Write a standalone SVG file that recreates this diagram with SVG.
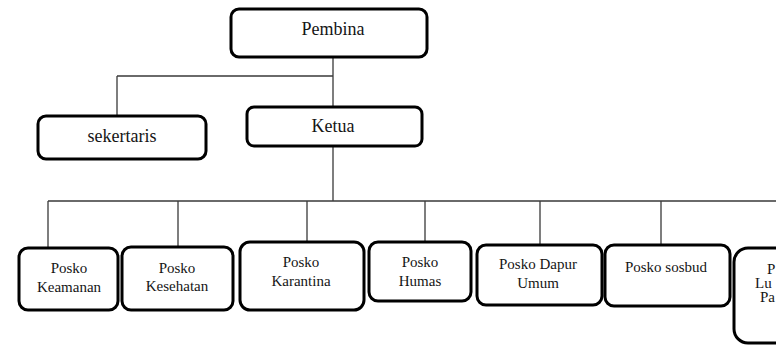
<svg xmlns="http://www.w3.org/2000/svg" width="776" height="345" viewBox="0 0 776 345">
<style>
.box{fill:#fff;stroke:#000;stroke-width:3}
.ln{stroke:#3a3a3a;stroke-width:1.3;fill:none}
.t{font-family:"Liberation Serif","Times New Roman",serif;fill:#151515;text-anchor:middle}
.big{font-size:18px}
.sm{font-size:15px}
.st{text-anchor:start}
</style>
<rect width="776" height="345" fill="#fff"/>
<g id="connectors">
<path class="ln" d="M333 57V107M117 76H333M117 76V116"/>
<path class="ln" d="M333 146V201M48 201H776M48 201V248M178 201V247M307 201V242M425 201V242M540 201V245M661 201V245"/>
</g>
<g id="pembina"><rect class="box" x="231" y="9" width="196" height="48" rx="8"/><text class="t big" x="333" y="35">Pembina</text></g>
<g id="sekertaris"><rect class="box" x="38" y="116" width="168" height="43" rx="8"/><text class="t big" x="122" y="142">sekertaris</text></g>
<g id="ketua"><rect class="box" x="247" y="107" width="175" height="39" rx="7"/><text class="t big" x="333" y="132">Ketua</text></g>
<g id="keamanan"><rect class="box" x="19" y="248" width="99" height="62" rx="9"/><text class="t sm" x="69" y="273">Posko</text><text class="t sm" x="69" y="292">Keamanan</text></g>
<g id="kesehatan"><rect class="box" x="122" y="247" width="111" height="63" rx="9"/><text class="t sm" x="177" y="273">Posko</text><text class="t sm" x="177" y="291">Kesehatan</text></g>
<g id="karantina"><rect class="box" x="240" y="242" width="124" height="68" rx="10"/><text class="t sm" x="301" y="267">Posko</text><text class="t sm" x="301" y="286">Karantina</text></g>
<g id="humas"><rect class="box" x="369" y="242" width="102" height="59" rx="9"/><text class="t sm" x="420" y="267">Posko</text><text class="t sm" x="420" y="286">Humas</text></g>
<g id="dapur"><rect class="box" x="477" y="245" width="125" height="60" rx="9"/><text class="t sm" x="538" y="269">Posko Dapur</text><text class="t sm" x="538" y="288">Umum</text></g>
<g id="sosbud"><rect class="box" x="605" y="245" width="125" height="61" rx="9"/><text class="t sm" x="666" y="272">Posko sosbud</text></g>
<g id="posko-last"><rect class="box" x="734" y="248" width="80" height="95" rx="14"/><text class="t sm st" x="767" y="274">P</text><text class="t sm st" x="755" y="288">Lu</text><text class="t sm st" x="760" y="302">Pa</text></g>
</svg>
